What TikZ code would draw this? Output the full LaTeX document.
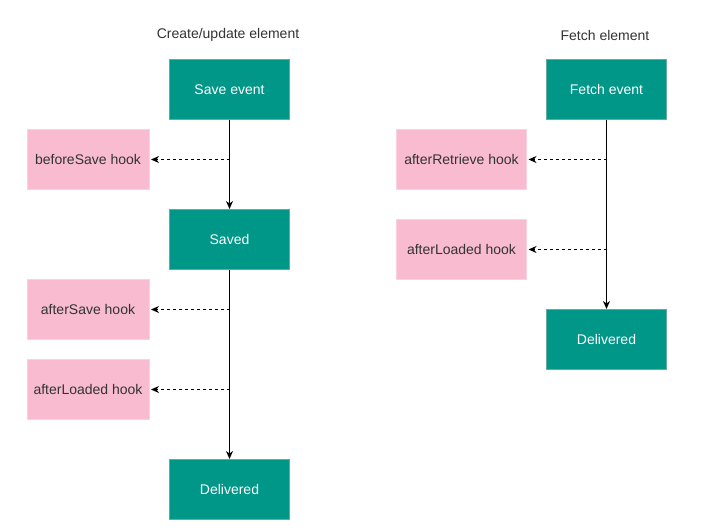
\documentclass[tikz,border=0pt]{standalone}
\usepackage{fontspec}
\setmainfont{Liberation Sans}
\usetikzlibrary{arrows.meta}
\definecolor{tealfill}{HTML}{009688}
\definecolor{tealborder}{HTML}{67AB9F}
\definecolor{pinkfill}{HTML}{F8BBD0}
\definecolor{pinkborder}{HTML}{FAD2DE}
\definecolor{txt}{HTML}{333333}
\tikzset{
  evbox/.style={rectangle, draw=tealborder, fill=tealfill, line width=1pt, minimum width=120pt, minimum height=60pt, inner sep=0pt, text=white, font=\fontsize{14pt}{16pt}\selectfont},
  hookbox/.style={rectangle, draw=pinkborder, fill=pinkfill, line width=1pt, minimum height=60pt, inner sep=0pt, text=txt, font=\fontsize{14pt}{16pt}\selectfont},
  title/.style={text=txt, font=\fontsize{14pt}{16pt}\selectfont, inner sep=0pt},
  flow/.style={line width=1.1pt, -{Stealth[length=8pt,width=7pt,inset=2.5pt]}},
  hookarrow/.style={line width=1pt, dash pattern=on 3pt off 3pt, -{Stealth[length=8pt,width=7pt,inset=2.5pt]}, shorten >=1.5pt},
}
\begin{document}
\begin{tikzpicture}[x=1pt,y=-1pt]
\useasboundingbox (0,0) rectangle (723,530);
\fill[white] (0,0) rectangle (723,530);
% titles
\node[title] (t1) at (228,35) {Create/update element};
\node[title] (t2) at (605,35) {Fetch element};
% left column
\node[evbox] (save) at (229.5,89.5) {Save event};
\node[hookbox, minimum width=122pt] (before) at (88,159.5) {beforeSave hook};
\node[evbox] (saved) at (229.5,239.5) {Saved};
\node[hookbox, minimum width=122pt] (aftersave) at (88,309.5) {afterSave hook};
\node[hookbox, minimum width=122pt] (afterloadedL) at (88,389.5) {afterLoaded hook};
\node[evbox] (deliveredL) at (229.5,489.5) {Delivered};
% right column
\node[evbox] (fetch) at (606.5,89.5) {Fetch event};
\node[hookbox, minimum width=130pt] (retrieve) at (461.5,159.5) {afterRetrieve hook};
\node[hookbox, minimum width=130pt] (afterloadedR) at (461.5,249.5) {afterLoaded hook};
\node[evbox] (deliveredR) at (606.5,339.5) {Delivered};
% junction coordinates
\coordinate (j1) at (save.south |- before.east);
\coordinate (j2) at (saved.south |- aftersave.east);
\coordinate (j3) at (saved.south |- afterloadedL.east);
\coordinate (j4) at (fetch.south |- retrieve.east);
\coordinate (j5) at (fetch.south |- afterloadedR.east);
% connectors
\draw[flow] (save.south) -- (saved.north);
\draw[flow] (saved.south) -- (deliveredL.north);
\draw[flow] (fetch.south) -- (deliveredR.north);
\draw[hookarrow] (j1) -- (before.east);
\draw[hookarrow] (j2) -- (aftersave.east);
\draw[hookarrow] (j3) -- (afterloadedL.east);
\draw[hookarrow] (j4) -- (retrieve.east);
\draw[hookarrow] (j5) -- (afterloadedR.east);
\end{tikzpicture}
\end{document}
